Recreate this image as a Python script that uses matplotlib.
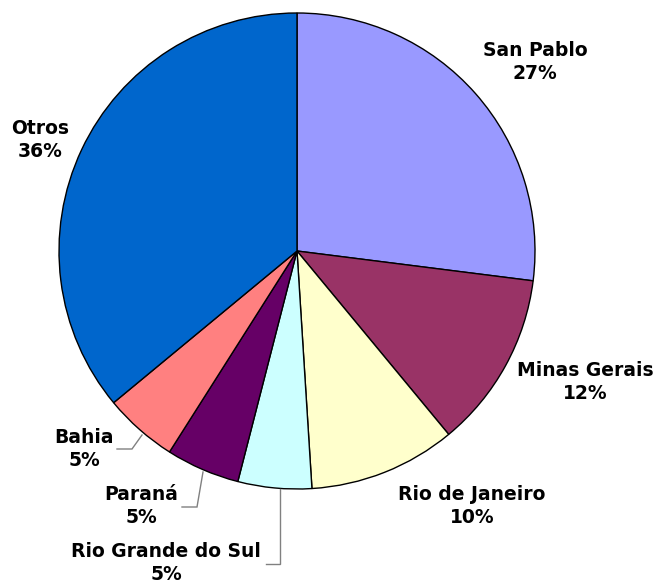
import matplotlib.pyplot as plt

# share by state (percent)
states = ["San Pablo", "Minas Gerais", "Rio de Janeiro", "Rio Grande do Sul",
          "Paraná", "Bahia", "Otros"]
shares = [27, 12, 10, 5, 5, 5, 36]
colors = ["#9999FF", "#993366", "#FFFFCC", "#CCFFFF", "#660066", "#FF8080", "#0066CC"]

W, H = 655, 582
CX, CY, R = 297, 251, 238  # pie centre / radius in pixels


def px(x, y):
    """pixel position -> data coords (pie radius = 1)"""
    return (x - CX) / R, (CY - y) / R


# label block centres, pixels
label_pos = [(535, 62), (585, 382), (472, 506), (166, 563),
             (141, 506), (84, 449), (40, 140)]
# leader lines for the small slices, pixels
leaders = {
    "Bahia": [(142, 435), (132, 449), (117, 449)],
    "Paraná": [(203, 472), (197, 507), (182, 507)],
    "Rio Grande do Sul": [(280, 489), (280, 564), (266, 564)],
}

fig = plt.figure(figsize=(W / 100, H / 100), dpi=100)
ax = fig.add_axes([0, 0, 1, 1])
ax.pie(shares, colors=colors, startangle=90, counterclock=False, radius=1,
       wedgeprops=dict(edgecolor="black", linewidth=1))
ax.set_xlim(-CX / R, (W - CX) / R)
ax.set_ylim(-(H - CY) / R, CY / R)
ax.set_aspect("equal")
ax.axis("off")

for name, v, (lx, ly) in zip(states, shares, label_pos):
    x, y = px(lx, ly)
    ax.text(x, y, f"{name}\n{v}%", ha="center", va="center", multialignment="center",
            fontsize=13.5, fontweight="bold", linespacing=1.3, color="black")

for name, pts in leaders.items():
    xy = [px(a, b) for a, b in pts]
    ax.plot([p[0] for p in xy], [p[1] for p in xy], color="#808080", lw=1,
            solid_joinstyle="miter")

fig.savefig("out.png", dpi=100)
